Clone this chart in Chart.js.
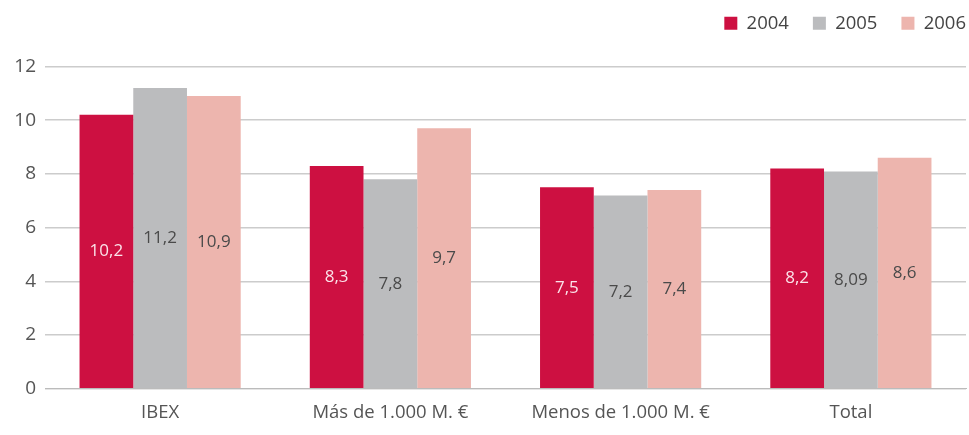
<!DOCTYPE html>
<html>
<head>
<meta charset="utf-8">
<script src="https://cdn.jsdelivr.net/npm/chart.js@4.4.1/dist/chart.umd.min.js"></script>
<style>
  html, body { margin: 0; padding: 0; background: #fff; }
  #wrap { position: relative; width: 969px; height: 435px; }
</style>
</head>
<body>
<div id="wrap"><canvas id="chart"></canvas></div>
<script>
const categories = ['IBEX', 'Más de 1.000 M. €', 'Menos de 1.000 M. €', 'Total'];
const years = ['2004', '2005', '2006'];
const values2004 = [10.2, 8.3, 7.5, 8.2];
const values2005 = [11.2, 7.8, 7.2, 8.09];
const values2006 = [10.9, 9.7, 7.4, 8.6];
const yTicks = [0, 2, 4, 6, 8, 10, 12];

const COLORS = {
  y2004: '#cd1041',
  y2005: '#bbbcbe',
  y2006: '#edb5ae',
  grid: '#cccccc',
  text: '#555555',
};

const FONT = "'Open Sans', 'Noto Sans', sans-serif";

// labels in the middle of each bar, decimal comma
const barLabels = {
  id: 'barLabels',
  afterDatasetsDraw(chart) {
    const ctx = chart.ctx;
    ctx.save();
    ctx.font = `17px ${FONT}`;
    ctx.textAlign = 'center';
    ctx.textBaseline = 'middle';
    chart.data.datasets.forEach((ds, i) => {
      const meta = chart.getDatasetMeta(i);
      meta.data.forEach((bar, j) => {
        const mid = (bar.y + bar.base) / 2;
        ctx.fillStyle = i === 0 ? '#fbe3e9' : '#4a4a4a';
        ctx.fillText(String(ds.data[j]).replace('.', ','), bar.x, mid);
      });
    });
    ctx.restore();
  },
};

// nudge the legend up and to the right edge
const legendPlace = {
  id: 'legendPlace',
  afterLayout(chart) {
    const lg = chart.legend;
    if (!lg) return;
    lg.top = -10;
    lg.right = chart.width + 21;
  },
};

new Chart(document.getElementById('chart').getContext('2d'), {
  type: 'bar',
  data: {
    labels: categories,
    datasets: [
      { label: years[0], data: values2004, backgroundColor: COLORS.y2004 },
      { label: years[1], data: values2005, backgroundColor: COLORS.y2005 },
      { label: years[2], data: values2006, backgroundColor: COLORS.y2006 },
    ],
  },
  options: {
    responsive: true,
    maintainAspectRatio: false,
    animation: false,
    datasets: { bar: { categoryPercentage: 0.7, barPercentage: 1.0 } },
    layout: { padding: { left: 0, right: 3, top: 14, bottom: 6 } },
    plugins: {
      legend: {
        align: 'end',
        labels: {
          boxWidth: 13,
          boxHeight: 13,
          padding: 24,
          color: '#444',
          font: { family: FONT, size: 18.5 },
        },
      },
      tooltip: { enabled: false },
    },
    scales: {
      x: {
        grid: { display: false },
        border: { color: '#bbbbbb' },
        ticks: { color: COLORS.text, font: { family: FONT, size: 18.5 }, padding: 5 },
      },
      y: {
        min: 0,
        max: 12,
        afterBuildTicks: (axis) => { axis.ticks = yTicks.map((v) => ({ value: v })); },
        afterFit: (axis) => { axis.width = 45; },
        grid: { color: COLORS.grid, lineWidth: 1.5, drawTicks: false },
        border: { display: false },
        ticks: { color: COLORS.text, font: { family: FONT, size: 19 }, padding: 9 },
      },
    },
  },
  plugins: [barLabels, legendPlace],
});
</script>
</body>
</html>
